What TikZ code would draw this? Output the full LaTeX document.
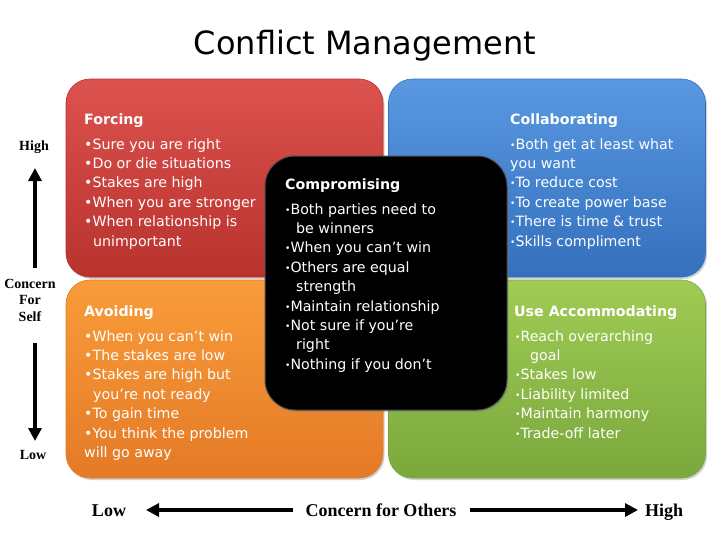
\documentclass[tikz,border=0pt]{standalone}
\usepackage{fontspec}
\setmainfont{DejaVu Sans}
\newfontfamily\axisfont{Liberation Serif}
\usetikzlibrary{positioning, calc, arrows.meta, shadows}
\definecolor{forcetop}{RGB}{220,82,78}
\definecolor{forcebot}{RGB}{184,50,46}
\definecolor{collabtop}{RGB}{90,152,226}
\definecolor{collabbot}{RGB}{52,112,188}
\definecolor{avoidtop}{RGB}{249,156,58}
\definecolor{avoidbot}{RGB}{228,122,38}
\definecolor{accomtop}{RGB}{160,203,84}
\definecolor{accombot}{RGB}{122,168,60}
\newcommand{\boxsize}{\fontsize{14.2}{19.4}\selectfont}
\newcommand{\sbul}{\raisebox{1pt}{\fontsize{9}{9}\selectfont\textbullet}}

\begin{document}
\begin{tikzpicture}[x=1pt, y=-1pt,
  quad/.style={rectangle, rounded corners=24pt, minimum width=317pt,
    minimum height=198pt, inner sep=0pt, line width=0.6pt,
    drop shadow={shadow xshift=1.5pt, shadow yshift=-2pt, opacity=0.35}},
  head/.style={anchor=base west, inner sep=0pt, text=white, font=\boxsize\bfseries},
  items/.style={anchor=north west, inner sep=0pt, text=white, align=left, font=\boxsize},
  axislabel/.style={anchor=base, inner sep=0pt, font={\axisfont\bfseries\fontsize{18}{20}\selectfont}},
  sidelabel/.style={anchor=base, inner sep=0pt, align=center, font={\axisfont\bfseries\fontsize{14}{16.5}\selectfont}},
  axisarrow/.style={line width=4pt, -{Triangle[length=13pt, width=13pt]}}]
  \useasboundingbox[fill=white] (0,0) rectangle (728,546);

  \node[inner sep=0pt, anchor=base, font=\fontsize{32}{36}\selectfont] (title) at (365,54) {Conflict Management};

  % FOUR QUADRANTS
  \node[quad, draw=forcebot, top color=forcetop, bottom color=forcebot] (forcing) at (224.5,178) {};
  \node[quad, draw=collabbot, top color=collabtop, bottom color=collabbot] (collab) at (547,178) {};
  \node[quad, draw=avoidbot, top color=avoidtop, bottom color=avoidbot] (avoid) at (224.5,379) {};
  \node[quad, draw=accombot, top color=accomtop, bottom color=accombot] (accom) at (547,379) {};

  % forcing (top left)
  \node[head] (forcing-h) at (84,124) {Forcing};
  \node[items] (forcing-t) at (84,135.4) {\strut•Sure you are right\\•Do or die situations\\•Stakes are high\\
    •When you are stronger\\•When relationship is\\\hspace*{9pt}unimportant};

  % collaborating (top right)
  \node[head] (collab-h) at (510,124) {Collaborating};
  \node[items] (collab-t) at (510,135.4) {\strut\sbul Both get at least what\\you want\\\sbul To reduce cost\\
    \sbul To create power base\\\sbul There is time \& trust\\\sbul Skills compliment};

  % avoiding (bottom left)
  \node[head] (avoid-h) at (84,316) {Avoiding};
  \node[items] (avoid-t) at (84,327.4) {\strut•When you can’t win\\•The stakes are low\\•Stakes are high but\\
    \hspace*{9pt}you’re not ready\\•To gain time\\•You think the problem\\will go away};

  % accommodating (bottom right)
  \node[head] (accom-h) at (514,316) {Use Accommodating};
  \node[items] (accom-t) at (515,327.4) {\strut\sbul Reach overarching\\\hspace*{15pt}goal\\\sbul Stakes low\\
    \sbul Liability limited\\\sbul Maintain harmony\\\sbul Trade-off later};

  % COMPROMISING (centre, on top)
  \node[rectangle, rounded corners=30pt, minimum width=242pt, minimum height=254pt,
    fill=black, draw=black!70, line width=1pt,
    drop shadow={shadow xshift=1.5pt, shadow yshift=-2pt, opacity=0.35}] (compro) at (386,283) {};
  \node[head] (compro-h) at (285,189) {Compromising};
  \node[items] (compro-t) at (285,200.4) {\strut\sbul Both parties need to\\\hspace*{11pt}be winners\\
    \sbul When you can’t win\\\sbul Others are equal\\\hspace*{11pt}strength\\\sbul Maintain relationship\\
    \sbul Not sure if you’re\\\hspace*{11pt}right\\\sbul Nothing if you don’t};

  % concern for self (left axis)
  \node[sidelabel] (selfhigh) at (34,150) {High};
  \node[sidelabel] (self) at (30,321) {Concern\\For\\Self};
  \node[sidelabel] (selflow) at (33,459) {Low};
  \coordinate (selfup) at (35,268);
  \coordinate (selftop) at (35,168);
  \coordinate (selfdown) at (35,343);
  \coordinate (selfbot) at (35,441);
  \draw[axisarrow] (selfup) -- (selftop);
  \draw[axisarrow] (selfdown) -- (selfbot);

  % concern for others (bottom axis)
  \node[axislabel] (others) at (381,516) {Concern for Others};
  \node[axislabel] (otherslow) at (109,516) {Low};
  \node[axislabel] (othershigh) at (664,516) {High};
  \coordinate (leftfoot) at (293,510);
  \coordinate (lefttip) at (146,510);
  \coordinate (rightfoot) at (470,510);
  \coordinate (righttip) at (638,510);
  \draw[axisarrow] (leftfoot) -- (lefttip);
  \draw[axisarrow] (rightfoot) -- (righttip);
\end{tikzpicture}
\end{document}
